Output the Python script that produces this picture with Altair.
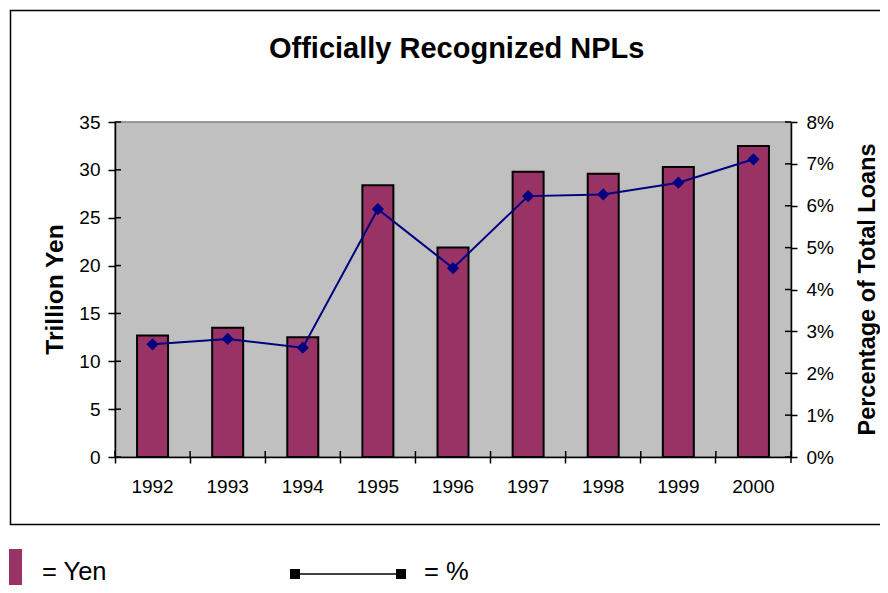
import altair as alt
import pandas as pd

years = ["1992", "1993", "1994", "1995", "1996", "1997", "1998", "1999", "2000"]
yen_trillion = [12.7, 13.5, 12.5, 28.4, 21.9, 29.8, 29.6, 30.3, 32.5]
pct_of_loans = [2.69, 2.82, 2.61, 5.92, 4.51, 6.23, 6.27, 6.55, 7.11]
yen_ticks = [0, 5, 10, 15, 20, 25, 30, 35]
pct_ticks = [0, 1, 2, 3, 4, 5, 6, 7, 8]

title_text = "Officially Recognized NPLs"
left_title = "Trillion Yen"
right_title = "Percentage of Total Loans"
legend_bar_text = "= Yen"
legend_line_text = "= %"

FONT = "Liberation Sans"
BAR_COLOR = "#993366"
LINE_COLOR = "#000080"

df = pd.DataFrame({
    "year": years,
    "yen": yen_trillion,
    "pct": [p / 100 for p in pct_of_loans],
})
yen_tick_df = pd.DataFrame({"v": yen_ticks})
pct_tick_df = pd.DataFrame({"v": [p / 100 for p in pct_ticks]})
one = pd.DataFrame({"k": [0]})

W, H = 676, 335
YEN_SCALE = alt.Scale(domain=[0, 35], nice=False)
PCT_SCALE = alt.Scale(domain=[0, 0.08], nice=False)

axis_common = dict(
    labelFont=FONT, labelFontSize=19, labelColor="black",
    domainColor="black", domainWidth=1.5, tickColor="black", tickWidth=1.5,
    grid=False, title=None,
)

x_enc = alt.X(
    "year:N",
    scale=alt.Scale(paddingInner=0, paddingOuter=0),
    axis=alt.Axis(labelAngle=0, bandPosition=0, tickSize=6, labelPadding=14, **axis_common),
)

bars = alt.Chart(df).mark_bar(
    size=31, color=BAR_COLOR, stroke="black", strokeWidth=2
).encode(
    x=x_enc,
    y=alt.Y(
        "yen:Q", scale=YEN_SCALE,
        axis=alt.Axis(orient="left", values=yen_ticks, tickSize=7, labelPadding=8, **axis_common),
    ),
)

line = alt.Chart(df).mark_line(
    color=LINE_COLOR, strokeWidth=2,
    point=alt.OverlayMarkDef(shape="diamond", size=150, filled=True, color=LINE_COLOR),
).encode(
    x=x_enc,
    y=alt.Y(
        "pct:Q", scale=PCT_SCALE,
        axis=alt.Axis(orient="right", values=[p / 100 for p in pct_ticks], format=".0%",
                      tickSize=6, labelPadding=9, **axis_common),
    ),
)

main = alt.layer(bars, line).resolve_scale(y="independent")

# inner halves of the "cross" tick marks
yen_inner = alt.Chart(yen_tick_df).mark_rule(color="black", strokeWidth=1.5).encode(
    y=alt.Y("v:Q", scale=YEN_SCALE, axis=None), x=alt.value(0), x2=alt.value(6)
)
pct_inner = alt.Chart(pct_tick_df).mark_rule(color="black", strokeWidth=1.5).encode(
    y=alt.Y("v:Q", scale=PCT_SCALE, axis=None), x=alt.value(W - 6), x2=alt.value(W)
)
x_inner = alt.Chart(df).mark_rule(color="black", strokeWidth=1.5).encode(
    x=alt.X("year:N", bandPosition=0), y=alt.value(H - 6), y2=alt.value(H)
)
x_end_tick = alt.Chart(one).mark_rule(color="black", strokeWidth=1.5).encode(
    x=alt.value(W), y=alt.value(H - 6), y2=alt.value(H + 6)
)

frame = alt.Chart(one).mark_rect(
    fillOpacity=0, stroke="black", strokeWidth=1.5
).encode(
    x=alt.value(-104.5), x2=alt.value(800), y=alt.value(-111.5), y2=alt.value(402.5)
)

title = alt.Chart(one).mark_text(
    text=title_text, font=FONT, fontSize=29, fontWeight="bold",
    align="center", baseline="alphabetic", color="black",
).encode(x=alt.value(341.7), y=alt.value(-64.5))

ltitle = alt.Chart(one).mark_text(
    text=left_title, font=FONT, fontSize=24.5, fontWeight="bold",
    align="center", baseline="alphabetic", angle=270, color="black",
).encode(x=alt.value(-52.3), y=alt.value(167.5))

rtitle = alt.Chart(one).mark_text(
    text=right_title, font=FONT, fontSize=23.5, fontWeight="bold",
    align="center", baseline="alphabetic", angle=270, color="black",
).encode(x=alt.value(759.5), y=alt.value(167.5))

leg_rect = alt.Chart(one).mark_rect(color=BAR_COLOR).encode(
    x=alt.value(-106), x2=alt.value(-93), y=alt.value(427), y2=alt.value(475)
)
leg_text1 = alt.Chart(one).mark_text(
    text=legend_bar_text, font=FONT, fontSize=25.5, align="left", baseline="alphabetic", color="black"
).encode(x=alt.value(-73), y=alt.value(457.5))

leg_line = alt.Chart(one).mark_rule(color="black", strokeWidth=1.5).encode(
    x=alt.value(180), x2=alt.value(286), y=alt.value(452)
)
leg_sq1 = alt.Chart(one).mark_rect(color="black").encode(
    x=alt.value(175), x2=alt.value(185), y=alt.value(447), y2=alt.value(457)
)
leg_sq2 = alt.Chart(one).mark_rect(color="black").encode(
    x=alt.value(281), x2=alt.value(291), y=alt.value(447), y2=alt.value(457)
)
leg_text2 = alt.Chart(one).mark_text(
    text=legend_line_text, font=FONT, fontSize=25.5, align="left", baseline="alphabetic", color="black"
).encode(x=alt.value(309), y=alt.value(457.5))

chart = alt.layer(
    main, yen_inner, pct_inner, x_inner, x_end_tick,
    frame, title, ltitle, rtitle,
    leg_rect, leg_text1, leg_line, leg_sq1, leg_sq2, leg_text2,
).resolve_scale(y="independent").properties(
    width=W, height=H,
    background="white",
    autosize=alt.AutoSizeParams(type="none"),
    padding={"left": 107, "top": 114, "right": 89, "bottom": 128},
).configure_view(
    fill="#C0C0C0", stroke="#808080", strokeWidth=1.5
)

chart.save("out.html", embed_options={"renderer": "svg", "actions": False})
